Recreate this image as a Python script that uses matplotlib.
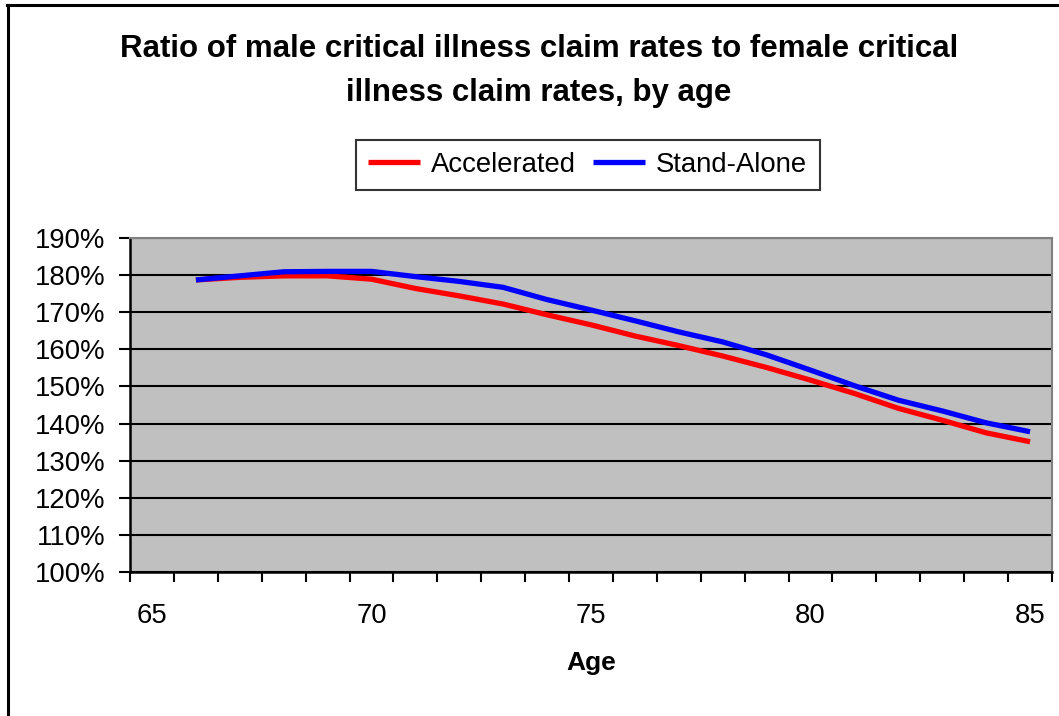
import matplotlib.pyplot as plt
from matplotlib.lines import Line2D
from matplotlib.ticker import FixedLocator, FuncFormatter

plt.rcParams['font.family'] = ['Liberation Sans', 'DejaVu Sans']

ages = list(range(66, 86))
accelerated = [178.7, 179.4, 179.8, 179.8, 178.9, 176.4, 174.4, 172.2, 169.3, 166.6,
               163.6, 161.0, 158.2, 155.1, 151.7, 148.1, 144.1, 140.9, 137.5, 135.1]
stand_alone = [178.7, 179.8, 180.9, 181.0, 181.0, 179.6, 178.3, 176.7, 173.4, 170.6,
               167.7, 164.7, 162.0, 158.5, 154.4, 150.2, 146.3, 143.4, 140.2, 137.8]
age_labels = [65, 70, 75, 80, 85]

fig = plt.figure(figsize=(10.59, 7.16), dpi=100)
ax = fig.add_axes([0.1228, 0.2011, 0.8706, 0.4665])
ax.set_facecolor('#c0c0c0')

ax.plot(ages, accelerated, color='#ff0000', lw=3.8, label='Accelerated', solid_capstyle='butt')
ax.plot(ages, stand_alone, color='#0000ff', lw=3.8, label='Stand-Alone', solid_capstyle='butt')

ax.set_xlim(64.5, 85.5)
ax.set_ylim(100, 190)
ax.set_yticks(range(100, 191, 10))
ax.yaxis.set_major_formatter(FuncFormatter(lambda v, p: f'{v:.0f}%'))
ax.grid(axis='y', color='black', lw=1.5)
ax.set_axisbelow(True)

# category boundaries as tick marks, labels every 5 years without marks
ax.xaxis.set_major_locator(FixedLocator([a - 0.5 for a in range(65, 87)]))
ax.xaxis.set_major_formatter(FuncFormatter(lambda v, p: ''))
ax.xaxis.set_minor_locator(FixedLocator(age_labels))
ax.xaxis.set_minor_formatter(FuncFormatter(lambda v, p: f'{v:.0f}'))
ax.tick_params(axis='x', which='minor', length=0, pad=22, labelsize=19.8)
ax.tick_params(axis='x', which='major', length=7, width=1.5, direction='out')
ax.tick_params(axis='y', length=8, width=1.5, direction='out', labelsize=19.8, pad=10)

ax.spines['left'].set_linewidth(1.8)
ax.spines['bottom'].set_linewidth(1.8)
ax.spines['top'].set_color('#808080')
ax.spines['right'].set_color('#808080')
ax.spines['top'].set_linewidth(1.5)
ax.spines['right'].set_linewidth(1.5)

ax.set_xlabel('Age', fontsize=19, fontweight='bold', labelpad=16)

fig.text(0.509, 0.901, 'Ratio of male critical illness claim rates to female critical\nillness claim rates, by age',
         ha='center', va='center', fontsize=22.5, fontweight='bold', linespacing=1.58)

leg = fig.legend(loc='center', bbox_to_anchor=(0.555, 0.7696), ncol=2, fontsize=19.8,
                 frameon=True, fancybox=False, edgecolor='black', handlelength=1.9,
                 handletextpad=0.4, columnspacing=0.6, borderpad=0.45)
leg.get_frame().set_linewidth(1.5)

# outer chart border (left and top edges visible)
fig.add_artist(Line2D([0.0075, 0.0075], [0.0, 0.993], transform=fig.transFigure, color='black', lw=2.2))
fig.add_artist(Line2D([0.0065, 1.0], [0.993, 0.993], transform=fig.transFigure, color='black', lw=2.2))

fig.savefig('out.png', dpi=100)
